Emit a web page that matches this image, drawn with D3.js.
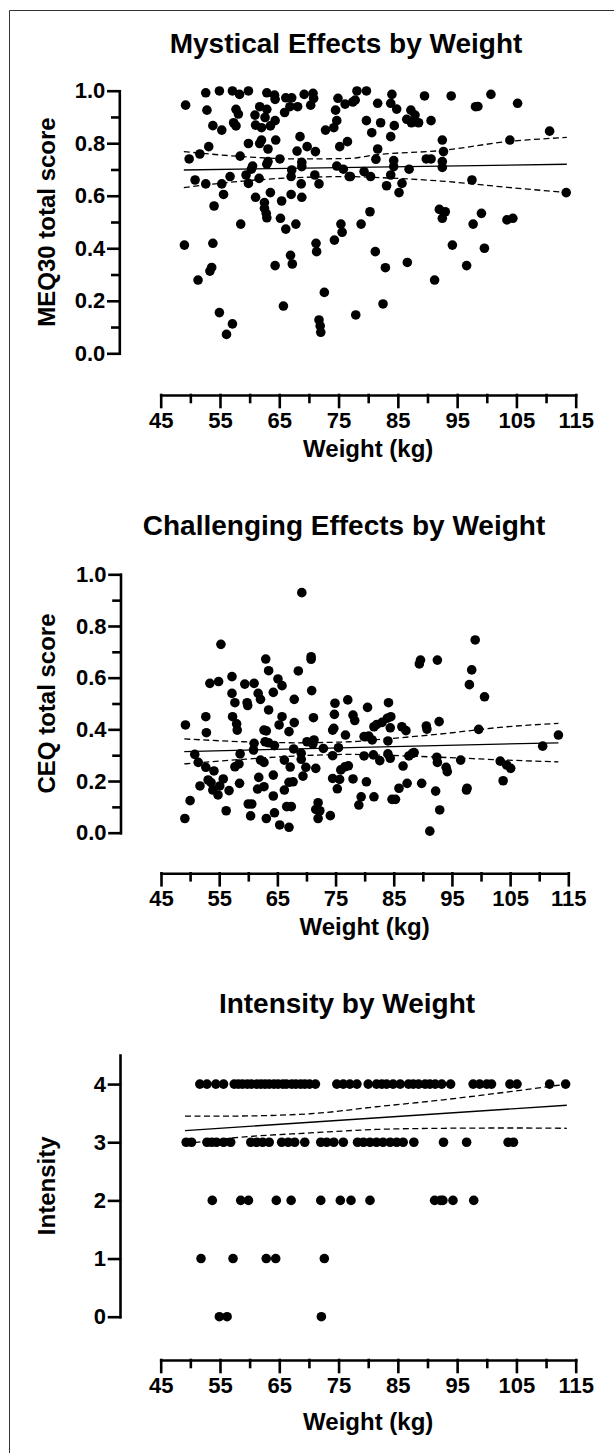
<!DOCTYPE html>
<html>
<head>
<meta charset="utf-8">
<script src="https://cdn.jsdelivr.net/npm/d3@7"></script>
<style>
  body { margin: 0; background: #fff; }
  svg text { font-family: "Liberation Sans", Arial, sans-serif; font-weight: bold; fill: #000; }
</style>
</head>
<body>
<svg id="fig" width="614" height="1453"></svg>
<script>
// ---- data ----
var meqWeight = [52.6,54.9,57.1,58.3,59.8,62.9,64.2,64.3,66.1,67.1,69.2,70.7,70.8,74.9,76.1,49.2,52.8,57.7,58.1,61.7,
  62.9,60.9,62.6,65.9,66.8,68.1,70.3,74.5,74.7,64.3,63.5,61.0,62.0,57.3,57.7,53.8,55.3,72.8,74.2,68.5,
  64.4,61.7,62.0,59.8,53.1,63.1,68.0,69.7,71.1,75.2,76.5,49.8,51.6,58.4,65.1,63.1,62.9,68.8,68.8,67.1,
  60.5,60.3,59.4,61.6,67.0,71.0,74.7,75.8,76.8,50.8,52.6,55.3,56.7,59.8,68.7,71.7,55.6,63.5,61.0,65.4,
  67.0,68.8,62.5,62.5,62.8,62.9,54.0,58.5,65.2,66.1,67.8,75.4,75.6,74.3,49.0,53.8,71.2,71.3,53.6,53.3,
  64.3,66.9,67.2,51.3,72.6,65.7,54.9,57.1,56.1,71.7,71.9,72.0,
  78.1,79.7,77.8,77.4,84.0,83.8,81.6,84.8,89.5,94.0,98.1,98.5,100.7,105.2,87.2,87.9,86.5,87.3,88.5,90.6,
  79.7,82.1,84.4,80.6,83.8,92.5,110.6,103.9,81.6,92.7,81.3,84.3,89.8,90.6,92.5,84.3,92.5,86.9,79.3,77.0,
  80.4,83.8,83.1,85.7,85.2,97.5,113.4,80.3,78.8,92.0,93.0,92.5,99.1,97.7,103.4,104.4,81.2,82.9,86.6,94.2,
  99.6,96.6,91.2,82.5,77.9];
var meqScore = [0.992,0.999,0.999,0.986,0.999,0.992,0.983,0.967,0.973,0.973,0.986,0.990,0.971,0.971,0.949,0.945,0.926,0.929,0.911,0.939,
  0.929,0.907,0.898,0.917,0.939,0.939,0.945,0.926,0.886,0.886,0.866,0.869,0.859,0.878,0.866,0.867,0.850,0.850,0.859,0.825,
  0.812,0.799,0.812,0.799,0.787,0.778,0.770,0.787,0.768,0.787,0.806,0.740,0.759,0.751,0.740,0.730,0.720,0.727,0.711,0.698,
  0.713,0.701,0.679,0.666,0.673,0.679,0.713,0.701,0.673,0.660,0.645,0.645,0.673,0.647,0.645,0.645,0.605,0.612,0.594,0.580,
  0.605,0.594,0.574,0.552,0.533,0.516,0.561,0.492,0.514,0.473,0.492,0.492,0.461,0.431,0.412,0.419,0.419,0.387,0.327,0.313,
  0.334,0.373,0.340,0.279,0.232,0.180,0.155,0.112,0.072,0.127,0.104,0.080,
  0.999,0.999,0.964,0.957,0.986,0.952,0.952,0.930,0.980,0.980,0.939,0.940,0.986,0.952,0.926,0.907,0.891,0.878,0.878,0.886,
  0.886,0.878,0.867,0.840,0.825,0.812,0.846,0.812,0.778,0.768,0.739,0.734,0.740,0.740,0.730,0.711,0.708,0.701,0.692,0.673,
  0.673,0.679,0.638,0.647,0.612,0.660,0.612,0.539,0.492,0.548,0.539,0.514,0.533,0.492,0.508,0.514,0.387,0.326,0.346,0.412,
  0.400,0.334,0.279,0.188,0.146];

var ceqWeight = [69.2,55.3,70.8,70.8,63.0,63.5,68.6,53.4,54.9,57.2,65.1,65.8,59.4,61.0,57.2,57.7,61.7,62.1,64.3,70.9,
  67.9,59.8,59.9,63.5,52.7,57.3,65.8,71.2,74.9,74.8,77.1,49.2,58.0,58.1,52.8,65.3,67.9,67.0,62.7,63.1,
  61.0,60.9,62.9,63.5,64.5,70.1,71.3,71.1,72.9,74.5,74.7,76.7,75.5,67.8,69.1,69.1,50.8,51.4,52.7,54.1,
  58.6,57.7,58.4,62.1,62.7,66.2,67.2,69.9,71.6,75.9,76.6,77.2,74.5,75.7,75.3,55.7,53.1,53.6,53.9,51.7,
  55.1,54.8,56.7,58.5,61.8,61.6,62.7,64.3,66.2,67.0,67.7,69.4,64.3,50.0,56.2,60.0,60.6,60.4,63.1,64.5,
  66.6,67.4,65.4,67.0,72.0,71.6,72.3,72.0,74.1,49.1,74.5,
  99.0,89.6,89.4,92.5,98.4,98.0,100.6,80.5,84.1,78.0,78.3,81.6,82.1,83.0,83.9,84.5,84.4,86.4,87.1,90.6,
  90.7,92.8,99.6,79.9,80.7,81.3,84.0,113.3,110.6,79.9,81.5,82.6,84.0,84.4,87.6,88.2,88.5,86.6,92.4,92.5,
  96.5,94.0,94.2,103.3,104.4,105.1,78.0,80.3,87.3,89.8,85.9,92.2,97.5,97.6,103.8,79.4,81.6,79.0,84.7,85.3,
  92.9,91.2];
var ceqScore = [0.929,0.729,0.681,0.671,0.672,0.627,0.626,0.578,0.585,0.604,0.595,0.569,0.575,0.578,0.539,0.503,0.539,0.516,0.543,0.550,
  0.516,0.503,0.492,0.475,0.449,0.449,0.449,0.445,0.501,0.458,0.514,0.417,0.421,0.397,0.387,0.417,0.426,0.391,0.397,0.394,
  0.346,0.320,0.352,0.348,0.337,0.352,0.359,0.343,0.326,0.397,0.404,0.378,0.329,0.324,0.307,0.284,0.303,0.272,0.253,0.239,
  0.305,0.255,0.266,0.281,0.272,0.281,0.254,0.253,0.249,0.243,0.255,0.259,0.210,0.206,0.170,0.208,0.204,0.194,0.165,0.181,
  0.181,0.146,0.163,0.191,0.214,0.169,0.178,0.223,0.165,0.195,0.197,0.219,0.142,0.124,0.085,0.111,0.111,0.065,0.055,0.077,
  0.101,0.101,0.030,0.021,0.116,0.090,0.085,0.055,0.066,0.055,0.298,
  0.746,0.668,0.653,0.668,0.630,0.573,0.526,0.485,0.503,0.455,0.434,0.410,0.419,0.427,0.443,0.449,0.406,0.410,0.395,0.413,
  0.401,0.430,0.400,0.372,0.374,0.359,0.355,0.378,0.335,0.297,0.301,0.279,0.305,0.288,0.297,0.307,0.310,0.258,0.292,0.272,
  0.281,0.253,0.236,0.277,0.262,0.249,0.208,0.197,0.191,0.191,0.172,0.161,0.165,0.172,0.201,0.139,0.139,0.107,0.129,0.129,
  0.088,0.006];

var intWeight = [54.9,56.2,72.1,
  51.8,57.2,62.8,64.4,72.6,
  53.7,58.5,59.8,64.5,67.0,72.0,75.3,77.1,80.3,91.2,92.2,92.6,94.3,97.8,
  49.3,50.2,52.8,53.6,54.4,55.6,56.8,60.2,61.2,62.2,63.3,65.4,66.5,67.6,69.3,72.0,73.0,74.2,75.8,
  78.2,79.2,80.3,81.4,82.5,83.7,84.8,85.9,87.7,92.7,96.6,103.6,104.5,
  51.6,52.8,54.3,55.6,57.4,58.1,58.8,59.6,60.3,61.2,61.9,62.6,63.3,64.1,64.8,65.6,66.2,67.1,67.8,68.6,
  69.3,70.1,71.1,74.7,75.8,76.9,78.1,80.0,81.4,82.3,83.1,84.2,85.4,86.8,87.6,88.5,89.6,90.4,91.3,92.4,
  93.9,97.7,98.8,100.0,100.8,103.9,105.1,110.6,113.3];
var intScore = [0,0,0,
  1,1,1,1,1,
  2,2,2,2,2,2,2,2,2,2,2,2,2,2,
  3,3,3,3,3,3,3,3,3,3,3,3,3,3,3,3,3,3,3,
  3,3,3,3,3,3,3,3,3,3,3,3,3,
  4,4,4,4,4,4,4,4,4,4,4,4,4,4,4,4,4,4,4,4,
  4,4,4,4,4,4,4,4,4,4,4,4,4,4,4,4,4,4,4,4,
  4,4,4,4,4,4,4,4,4];

// regression line and 95% band
var meqFitX = [48.9, 113.5], meqFitY = [0.698, 0.720];
var meqBandX = [48.9, 58.9, 67.9, 76.9, 80.9, 92.2, 103.5, 113.5];
var meqUpper = [0.768, 0.749, 0.740, 0.742, 0.755, 0.772, 0.806, 0.822];
var meqLower = [0.631, 0.656, 0.669, 0.673, 0.670, 0.656, 0.632, 0.612];

var ceqFitX = [49.0, 113.3], ceqFitY = [0.314, 0.348];
var ceqBandX = [49.0, 59.1, 68.3, 77.5, 81.6, 93.0, 104.4, 113.3];
var ceqUpper = [0.363, 0.352, 0.348, 0.352, 0.359, 0.382, 0.410, 0.423];
var ceqLower = [0.266, 0.284, 0.297, 0.303, 0.301, 0.292, 0.281, 0.274];

var intFitX = [49.1, 113.5], intFitY = [3.20, 3.636];
var intBandX = [49.1, 56.8, 70.2, 81.4, 92.7, 103.9, 113.5];
var intUpper = [3.45, 3.45, 3.49, 3.61, 3.73, 3.87, 4.0];
var intLower = [2.97, 3.07, 3.16, 3.22, 3.24, 3.245, 3.24];

var xMajor = [45, 55, 65, 75, 85, 95, 105, 115];
var xMinor = [50, 60, 70, 80, 90, 100, 110];

var svg = d3.select("#fig");

// frame
svg.append("path")
  .attr("d", "M9.5,1453 V10.5 H614")
  .attr("fill", "none")
  .attr("stroke", "#333")
  .attr("stroke-width", 1);

function drawPanel(p) {
  var x = d3.scaleLinear().domain([45, 115]).range(p.xRange);
  var y = d3.scaleLinear().domain(p.yDomain).range(p.yRange);
  var g = svg.append("g");

  // title
  g.append("text")
    .attr("x", p.titleX).attr("y", p.titleY)
    .attr("text-anchor", "middle")
    .style("font-size", "28px")
    .text(p.title);

  // y axis
  g.append("g").attr("transform", `translate(${p.axisX},0)`)
    .call(d3.axisLeft(y).tickValues(p.yTicks).tickSize(11).tickSizeOuter(0).tickPadding(3).tickFormat(p.yFormat));
  if (p.yMinor) {
    g.append("g").attr("transform", `translate(${p.axisX},0)`)
      .call(d3.axisLeft(y).tickValues(p.yMinor).tickSize(7).tickFormat(""))
      .call(a => a.select(".domain").remove());
  }

  // x axis
  g.append("g").attr("transform", `translate(0,${p.xAxisY})`)
    .call(d3.axisBottom(x).tickValues(xMajor).tickSize(12).tickSizeOuter(0).tickPadding(5));
  g.append("g").attr("transform", `translate(0,${p.xAxisY})`)
    .call(d3.axisBottom(x).tickValues(xMinor).tickSize(7).tickFormat(""))
    .call(a => a.select(".domain").remove());

  g.selectAll(".domain, .tick line")
    .attr("stroke", "#000").attr("stroke-width", 2.6).attr("stroke-linecap", "square");
  g.selectAll(".tick text")
    .attr("font-family", null).attr("font-size", null)
    .style("font-size", "22px").attr("fill", "#000");

  // axis titles
  g.append("text")
    .attr("transform", `translate(${p.yLabelX},${(p.yRange[0] + p.yLabelTop) / 2}) rotate(-90)`)
    .attr("text-anchor", "middle")
    .style("font-size", "24px")
    .text(p.yLabel);
  g.append("text")
    .attr("x", (p.xRange[0] + p.xRange[1]) / 2).attr("y", p.xAxisY + p.xLabelDy)
    .attr("text-anchor", "middle")
    .style("font-size", "24px")
    .text("Weight (kg)");

  // fit + confidence band
  var line = d3.line().x(d => x(d[0])).y(d => y(d[1]));
  var band = d3.line().curve(d3.curveMonotoneX).x(d => x(d[0])).y(d => y(d[1]));
  g.append("path").datum(d3.zip(p.fitX, p.fitY))
    .attr("d", line).attr("fill", "none").attr("stroke", "#000").attr("stroke-width", 1.3);
  [p.upper, p.lower].forEach(function(vals) {
    g.append("path").datum(d3.zip(p.bandX, vals))
      .attr("d", band).attr("fill", "none").attr("stroke", "#000")
      .attr("stroke-width", 1.3).attr("stroke-dasharray", "6,3.5");
  });

  // points
  g.selectAll("circle.pt")
    .data(d3.zip(p.xs, p.ys))
    .enter().append("circle")
    .attr("class", "pt")
    .attr("cx", d => x(d[0]))
    .attr("cy", d => y(d[1]))
    .attr("r", 4.8)
    .attr("fill", "#000");
}

drawPanel({
  title: "Mystical Effects by Weight", titleX: 346, titleY: 53,
  yLabel: "MEQ30 total score", yLabelX: 55, yLabelTop: 90.7,
  xs: meqWeight, ys: meqScore,
  fitX: meqFitX, fitY: meqFitY, bandX: meqBandX, upper: meqUpper, lower: meqLower,
  xRange: [160.7, 575.7], yDomain: [0, 1], yRange: [353.3, 90.7],
  axisX: 119.3, xAxisY: 395, xLabelDy: 62,
  yTicks: [0, 0.2, 0.4, 0.6, 0.8, 1.0], yMinor: [0.1, 0.3, 0.5, 0.7, 0.9], yFormat: d3.format(".1f")
});

drawPanel({
  title: "Challenging Effects by Weight", titleX: 344, titleY: 535,
  yLabel: "CEQ total score", yLabelX: 55, yLabelTop: 574.3,
  xs: ceqWeight, ys: ceqScore,
  fitX: ceqFitX, fitY: ceqFitY, bandX: ceqBandX, upper: ceqUpper, lower: ceqLower,
  xRange: [161, 568.3], yDomain: [0, 1], yRange: [832.7, 574.3],
  axisX: 120.5, xAxisY: 873.3, xLabelDy: 62,
  yTicks: [0, 0.2, 0.4, 0.6, 0.8, 1.0], yMinor: [0.1, 0.3, 0.5, 0.7, 0.9], yFormat: d3.format(".1f")
});

drawPanel({
  title: "Intensity by Weight", titleX: 347, titleY: 1013,
  yLabel: "Intensity", yLabelX: 55, yLabelTop: 1055,
  xs: intWeight, ys: intScore,
  fitX: intFitX, fitY: intFitY, bandX: intBandX, upper: intUpper, lower: intLower,
  xRange: [160.7, 575.7], yDomain: [0, 4.5], yRange: [1316.7, 1055],
  axisX: 120, xAxisY: 1360, xLabelDy: 70,
  yTicks: [0, 1, 2, 3, 4], yMinor: null, yFormat: d3.format("d")
});
</script>
</body>
</html>
